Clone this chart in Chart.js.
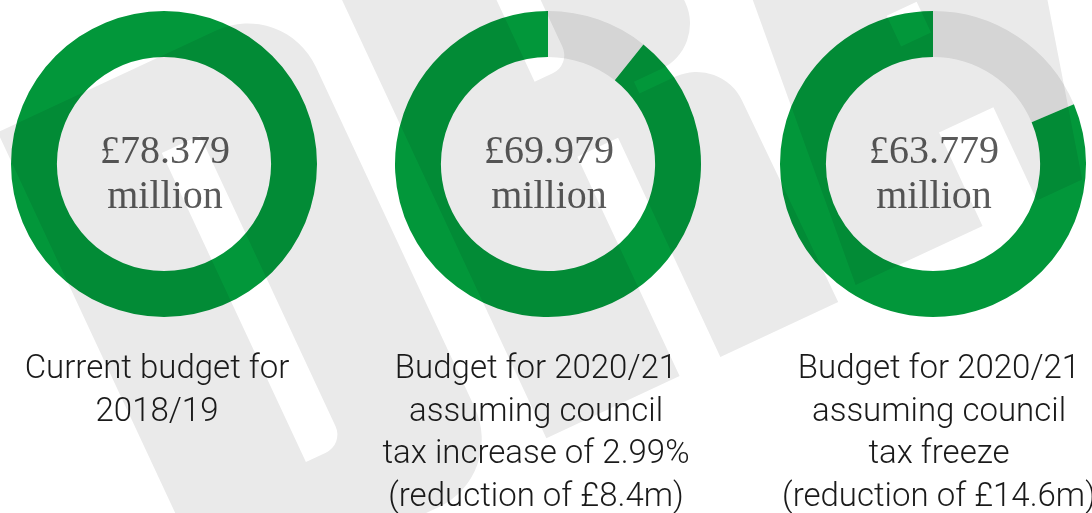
<!DOCTYPE html>
<html>
<head>
<meta charset="utf-8">
<title>Budget scenarios</title>
<script src="https://cdn.jsdelivr.net/npm/chart.js@4.4.1/dist/chart.umd.min.js"></script>
<style>
    html, body { margin: 0; padding: 0; background: #fff; }
    #page { position: relative; width: 1092px; height: 513px; overflow: hidden; }
    #page canvas { position: absolute; top: 0; }
    #overlay { left: 0; mix-blend-mode: multiply; pointer-events: none; }
</style>
</head>
<body>
<div id="page">
    <canvas id="budget0" width="328" height="328" style="left:0px"></canvas>
    <canvas id="budget1" width="328" height="328" style="left:384px"></canvas>
    <canvas id="budget2" width="328" height="328" style="left:769px"></canvas>
    <canvas id="overlay" width="1092" height="513"></canvas>
</div>
<script>
"use strict";

// budget in £ million for each scenario, and the cut from the current budget
const aBudgets = [78.379, 69.979, 63.779];
const aReductions = [0, 8.4, 14.6];

const aCaptions = [
    ["Current budget for", "2018/19"],
    ["Budget for 2020/21", "assuming council", "tax increase of 2.99%", "(reduction of £8.4m)"],
    ["Budget for 2020/21", "assuming council", "tax freeze", "(reduction of £14.6m)"]
];

const sGreen = "#02973a";
const sCutGrey = "#e8e8e8";

// caption layout
const aCaptionCentres = [157, 536, 939];
const fCaptionTop = 378;
const fCaptionLine = 42.5;

const oCentreText = {
    id: "centreText",
    afterDatasetsDraw: function(oChart, oArgs, oOptions) {
        const oArc = oChart.getDatasetMeta(0).data[0];
        const oCtx = oChart.ctx;
        oCtx.save();
        oCtx.font = "40px 'Liberation Serif', serif";
        oCtx.fillStyle = "#5a5a5a";
        oCtx.textAlign = "center";
        oCtx.textBaseline = "alphabetic";
        oCtx.fillText(oOptions.amount, oArc.x + 1, oArc.y - 1.5);
        oCtx.fillText("million", oArc.x + 1, oArc.y + 43.5);
        oCtx.restore();
    }
};

aBudgets.forEach(function(fBudget, iIndex) {
    const oCanvas = document.getElementById("budget" + iIndex);
    new Chart(oCanvas.getContext("2d"), {
        type: "doughnut",
        data: {
            labels: ["Reduction", "Budget"],
            datasets: [{
                data: [aReductions[iIndex], fBudget],
                backgroundColor: [sCutGrey, sGreen],
                borderWidth: 0,
                hoverOffset: 0
            }]
        },
        options: {
            responsive: false,
            animation: false,
            events: [],
            cutout: "70%",
            layout: { padding: 11 },
            plugins: {
                legend: { display: false },
                tooltip: { enabled: false },
                centreText: { amount: "£" + fBudget.toFixed(3) }
            }
        },
        plugins: [oCentreText]
    });
});

// tilted letterforms of the background mark, drawn in their own rotated frame
function drawWatermark(oCtx) {
    oCtx.save();
    oCtx.rotate(-25 * Math.PI / 180);
    oCtx.fillStyle = "#eaeaea";

    oCtx.beginPath();
    oCtx.moveTo(-58, 119);
    oCtx.lineTo(183, 119);
    oCtx.arc(183, 194, 75, -Math.PI / 2, 0);
    oCtx.lineTo(258, 570);
    oCtx.arc(183, 570, 75, 0, Math.PI / 2);
    oCtx.lineTo(-58, 645);
    oCtx.closePath();
    oCtx.moveTo(82, 207);
    oCtx.lineTo(124, 207);
    oCtx.lineTo(124, 528);
    oCtx.arc(104, 528, 20, 0, Math.PI / 2);
    oCtx.lineTo(82, 548);
    oCtx.closePath();
    oCtx.fill("evenodd");

    oCtx.beginPath();
    oCtx.moveTo(310, 60);
    oCtx.lineTo(620, 60);
    oCtx.lineTo(620, 292);
    oCtx.arc(570, 292, 50, 0, Math.PI / 2);
    oCtx.lineTo(540, 342);
    oCtx.lineTo(540, 355);
    oCtx.lineTo(580, 355);
    oCtx.arc(580, 405, 50, -Math.PI / 2, 0);
    oCtx.lineTo(632, 628);
    oCtx.lineTo(502, 628);
    oCtx.lineTo(502, 386);
    oCtx.lineTo(457, 386);
    oCtx.lineTo(457, 628);
    oCtx.lineTo(310, 628);
    oCtx.closePath();
    oCtx.moveTo(450, 150);
    oCtx.lineTo(490, 150);
    oCtx.lineTo(490, 280);
    oCtx.arc(470, 280, 20, 0, Math.PI / 2);
    oCtx.lineTo(450, 300);
    oCtx.closePath();
    oCtx.fill("evenodd");

    oCtx.beginPath();
    oCtx.moveTo(702, 100);
    oCtx.lineTo(1035, 100);
    oCtx.lineTo(905, 620);
    oCtx.lineTo(855, 620);
    oCtx.lineTo(855, 517);
    oCtx.lineTo(795, 517);
    oCtx.lineTo(795, 620);
    oCtx.lineTo(655, 620);
    oCtx.closePath();
    oCtx.rect(797, 389, 33, 34);
    oCtx.fill("evenodd");

    oCtx.restore();
}

function drawCaptions(oCtx) {
    oCtx.save();
    oCtx.font = "300 33px Roboto, 'Liberation Sans', sans-serif";
    oCtx.fillStyle = "#1a1a1a";
    oCtx.textAlign = "center";
    oCtx.textBaseline = "alphabetic";
    aCaptions.forEach(function(aLines, iIndex) {
        aLines.forEach(function(sLine, iLine) {
            oCtx.fillText(sLine, aCaptionCentres[iIndex], fCaptionTop + iLine * fCaptionLine);
        });
    });
    oCtx.restore();
}

const oOverlay = document.getElementById("overlay").getContext("2d");
drawWatermark(oOverlay);
drawCaptions(oOverlay);
</script>
</body>
</html>
